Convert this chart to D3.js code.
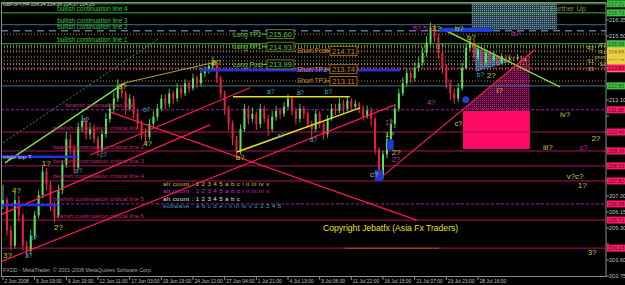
<!DOCTYPE html>
<html>
<head>
<meta charset="utf-8">
<script src="https://cdn.jsdelivr.net/npm/d3@7"></script>
<style>
  body { margin: 0; background: #000; }
  svg { display: block; font-family: "Liberation Sans", Arial, sans-serif; }
</style>
</head>
<body>
<div id="chart"></div>
<script>
// ---- price bars (GBPJPY H4), open = previous close
var firstOpen = 206.50;
var closes = [206.78,205.17,204.36,206.78,205.97,204.36,204.09,204.89,205.97,207.05,
  208.30,207.59,206.51,205.97,207.32,208.67,210.02,209.48,208.51,210.67,
  210.99,210.29,210.56,210.02,209.48,210.29,211.10,211.64,212.18,212.83,
  212.45,211.64,212.18,211.37,210.83,210.29,210.13,210.83,211.21,211.64,
  212.18,211.91,212.45,212.18,212.72,212.45,212.99,212.72,213.26,212.99,
  213.53,213.69,213.91,214.07,213.26,212.45,211.64,210.83,210.02,209.37,
  210.56,211.64,211.10,211.37,210.83,211.64,211.10,210.56,211.21,211.53,
  211.37,211.75,212.18,211.53,211.10,211.64,211.37,210.83,210.56,211.37,
  210.83,210.29,211.10,211.64,211.53,211.91,211.64,212.07,211.75,211.91,
  211.64,211.21,211.53,211.10,209.48,208.13,209.21,210.02,210.83,211.64,
  212.45,212.99,213.53,213.26,213.80,214.07,214.61,215.15,215.96,215.42,
  214.61,213.80,212.99,212.45,212.18,212.72,213.80,214.88,215.15,214.34,
  214.77,214.07,214.61,214.23,214.45,214.12,214.45,214.23,214.34,214.29,
  214.40,214.18,214.25];
var highs = [207.60,206.95,205.40,207.20,207.00,206.10,204.60,205.20,206.20,207.30,
  208.60,208.50,207.80,206.70,207.60,208.90,210.40,210.30,209.70,210.90,
  211.30,211.20,210.90,210.80,210.20,210.50,211.40,211.90,212.50,213.20,
  213.00,212.60,212.40,212.30,211.60,211.00,210.60,211.10,211.50,211.90,
  212.40,212.40,212.70,212.60,213.00,212.90,213.20,213.10,213.50,213.40,
  213.80,213.90,214.10,214.40,214.20,213.40,212.60,211.80,211.00,210.20,
  210.80,211.90,211.80,211.70,211.50,211.90,211.80,211.30,211.50,211.80,
  211.70,212.00,212.40,212.30,211.70,211.90,211.80,211.50,211.00,211.60,
  211.50,211.00,211.30,211.90,211.90,212.20,212.10,212.30,212.20,212.10,
  212.00,211.80,211.80,211.70,211.20,209.60,209.40,210.30,211.10,211.90,
  212.70,213.30,213.80,213.70,214.10,214.40,214.90,215.50,216.20,216.10,
  215.60,214.80,214.00,213.20,212.70,213.00,214.10,215.10,215.40,215.30,
  215.00,214.90,214.80,214.70,214.70,214.50,214.60,214.50,214.50,214.40,
  214.55,214.45,214.35];
var lows = [206.30,204.90,204.10,204.20,205.70,204.10,203.75,203.90,204.70,205.80,
  206.90,207.30,206.20,205.60,205.80,207.10,208.50,209.20,208.20,208.40,
  210.40,210.00,210.00,209.80,209.10,209.30,210.10,210.90,211.40,212.00,
  212.20,211.30,211.50,211.10,210.60,210.00,209.80,210.00,210.60,211.00,
  211.50,211.60,211.70,211.90,212.00,212.20,212.30,212.50,212.60,212.70,
  212.80,213.30,213.50,213.70,213.00,212.20,211.30,210.50,209.70,209.00,
  209.20,210.40,210.80,210.90,210.50,210.60,210.90,210.20,210.40,211.00,
  211.10,211.20,211.60,211.30,210.80,210.90,211.10,210.60,210.10,210.40,
  210.60,210.00,210.10,211.00,211.30,211.40,211.40,211.50,211.50,211.60,
  211.40,211.00,211.10,210.70,209.20,207.80,207.90,209.00,209.90,210.60,
  211.50,212.30,212.80,213.00,213.10,213.60,213.90,214.40,215.00,215.20,
  214.30,213.50,212.70,212.10,211.90,212.00,212.60,213.70,214.70,214.10,
  214.20,213.90,213.90,214.00,214.10,213.90,214.00,214.10,214.10,214.15,
  214.20,214.10,214.15];

// ---- axes
var timeLabels = ["2 Jun 2008","5 Jun 03:00","9 Jun 19:00","12 Jun 11:00","17 Jun 03:00","19 Jun 19:00",
  "24 Jun 12:00","27 Jun 04:00","1 Jul 21:00","4 Jul 13:00","9 Jul 06:00","11 Jul 22:00",
  "16 Jul 15:00","21 Jul 07:00","23 Jul 23:00","28 Jul 16:00"];
var barsPerLabel = 8;
var priceTicks = [216.35,215.50,214.65,213.80,212.95,212.10,211.25,210.40,209.55,208.70,
  207.85,207.00,206.15,205.30,204.45,203.60,202.75];

// ---- horizontal levels
var bullishLevels = [217.21, 216.73, 216.10, 215.78, 215.09];
var bullishNames = ["", "bullish continuation line 4", "bullish continuation line 3",
  "bullish continuation line 2", "bullish continuation line 1"];
var steelLevel = 212.85;
var shortLevel = 213.80;
var criticalLevels = [211.58, 210.40, 209.39, 208.60, 207.80, 206.58, 205.72, 204.23];
var criticalNames = ["bearish reversal bias line", "bearish continuation critical line 1",
  "bearish continuation critical line 2", "bearish continuation critical line 3",
  "bearish continuation critical line 4", "bearish continuation critical line 5",
  "bearish continuation critical line 6", ""];
var pivotNames = ["R3","R2","R1","pivot","S1","S2","S3"];
var pivotLevels = [215.00, 214.87, 214.66, 214.39, 214.18, 214.02, 213.76];
var tradeNames = ["Long TP2","Long TP1","Long Post","Short Post","Short TP1","Short TP2"];
var tradeLevels = [215.60, 214.93, 213.99, 214.71, 213.74, 213.11];

// ---- trend lines [bar1, price1, bar2, price2]
var greenLines = [[0.5,208.76,30.8,213.01]];
var limeLines = [[110.4,215.94,140.7,212.80]];
var oliveLines = [[30.8,213.01,54.0,214.13]];
var tealDotted = [[-0.8,209.71,39.6,215.40]];
var redLines = [[27.0,211.47,104.5,205.72],[-0.8,203.49,99.0,211.84],[-0.8,205.99,52.3,210.78],
  [22.0,209.18,62.4,212.75],[96.0,208.07,134.3,214.77]];
var yellowLines = [[59.1,209.34,90.2,211.68],[58.1,212.27,87.6,212.27]];
var blueLines = [[-0.8,209.08,18.9,209.08],[-0.8,206.52,13.9,206.52],[49.7,213.68,100.3,213.68]];

// ---- zones [bar1, price1, bar2, price2]
var furtherUpBox = [118.4,217.27,139.9,215.83];
var pinkBox = [116.2,211.52,133.1,209.50];
var blueBar = [110.4,215.94,123.7,215.72];
var blueMarks = [[93.9,208.38,96.0,207.80],[97.0,209.98,98.7,209.45]];
var magentaTri = [[116.2,211.58],[133.1,214.55],[133.1,211.52]];
var blueTri = [[119.2,214.93],[128.0,214.13],[119.4,213.60]];

// ---- wave labels [text, bar, price]
var yellowWaves = [["3?",0,203.86],["4?",2.3,207.32],["1?",9.8,208.76],["2?",12.9,205.35],
  ["3?",29.0,212.85],["4?",35.4,209.82],["5?",52.8,214.13],["a?",58.8,209.07],["c?",92.7,208.17],
  ["1?",96.5,210.30],["2?",98.2,209.34],["3?",108.3,215.94],["b?",114.1,215.94],["b?",117.2,215.46],
  ["2?",122.2,213.44],["i?",124.7,212.64],["iv?",140.7,211.36],["iii?",136.4,209.61],
  ["2?",148.7,210.09],["v?c?",142.4,208.06],["1?",145.2,207.59],["3?",147.7,204.02]];
var purpleWaves = [["5?",103.5,215.94],["5?",106.1,215.94],["1?",96.5,210.90],["2?",98.2,208.95],
  ["b?",128.5,215.67],["4?",107.1,211.99],["c?",145.7,209.61]];
var cyanWaves = [["5?",5.6,203.86],["b?",6.8,204.82],["a?",18.2,208.38],["a?",20.0,211.08],
  ["c?",24.5,209.18],["b?",35.4,211.58],["a?",66.7,212.53],["a?",74.2,212.48],["b?",81.3,212.53],
  ["a?",69.2,210.24],["a?",77.5,209.98],["1?",109.6,214.93],["b?",119.7,213.44]];
var whiteWaves = [["c?",114.1,210.88]];

var countLines = ["alt count : 1 2 3 4 5 a b c i ii iii iv v", "alt count : 1 2 3 4 5 a b c i ii iii iv v",
  "alt count : 1 2 3 4 5 a b c", "subwave : a b c d e i ii iii iv v 1 2 3 4 5"];

var width = 625, height = 285;
var plotRight = 606, plotBottom = 276, plotTop = 2;

var x = d3.scaleLinear().domain([0, 120]).range([3, 478]);
var y = d3.scaleLinear().domain([207, 212.10]).range([196, 100]);

var svg = d3.select("#chart").append("svg").attr("width", width).attr("height", height);
svg.append("rect").attr("width", width).attr("height", height).attr("fill", "#000");

var defs = svg.append("defs");
function dotPattern(id, bg, dot) {
  var p = defs.append("pattern").attr("id", id).attr("width", 2).attr("height", 2)
    .attr("patternUnits", "userSpaceOnUse");
  p.append("rect").attr("width", 2).attr("height", 2).attr("fill", bg);
  p.append("rect").attr("width", 1).attr("height", 1).attr("fill", dot);
}
dotPattern("dotSteel", "#28404f", "#7d9cb4");
dotPattern("dotMag", "#4a0634", "#c01878");
dotPattern("dotBlue", "#1c4e86", "#58a8e8");
defs.append("clipPath").attr("id", "plotClip").append("rect")
  .attr("x", 1).attr("y", plotTop).attr("width", plotRight - 1).attr("height", plotBottom - plotTop);

var plot = svg.append("g").attr("clip-path", "url(#plotClip)");

function hline(v, color, w, dash) {
  plot.append("line").attr("x1", 1).attr("x2", plotRight).attr("y1", y(v)).attr("y2", y(v))
    .attr("stroke", color).attr("stroke-width", w).attr("stroke-dasharray", dash || null);
}
function seg(s, color, w, dash) {
  plot.append("line").attr("x1", x(s[0])).attr("y1", y(s[1])).attr("x2", x(s[2])).attr("y2", y(s[3]))
    .attr("stroke", color).attr("stroke-width", w).attr("stroke-dasharray", dash || null);
}
function box(b, fill, stroke) {
  plot.append("rect").attr("x", x(b[0])).attr("y", y(b[1]))
    .attr("width", x(b[2]) - x(b[0])).attr("height", y(b[3]) - y(b[1]))
    .attr("fill", fill).attr("stroke", stroke || "none");
}
function poly(pts, fill) {
  plot.append("polygon").attr("points", pts.map(function(p) { return x(p[0]) + "," + y(p[1]); }).join(" "))
    .attr("fill", fill);
}
function txt(g, t, px, py, color, size, anchor) {
  return g.append("text").attr("x", px).attr("y", py).attr("fill", color)
    .attr("font-size", size).attr("text-anchor", anchor || "start").text(t);
}

// zones behind everything
box(furtherUpBox, "url(#dotSteel)");
box(pinkBox, "#ff0a64");
poly(magentaTri, "url(#dotMag)");
poly(blueTri, "url(#dotBlue)");

// horizontal levels
bullishLevels.forEach(function(v, i) {
  if (i == 2) hline(v, "#3c6e8c", 1);
  else if (i == 3) hline(v, "#5a7890", 1.5, "7,5");
  else hline(v, "#30b830", 1);
});
hline(steelLevel, "#3c7890", 1);
pivotLevels.forEach(function(v) { hline(v, "#a89a30", 1, "1,2"); });
tradeLevels.forEach(function(v, i) { hline(v, i < 3 ? "#9aa428" : "#c87a20", 1, "1,2"); });
hline(shortLevel, "#d0206a", 1, "4,2");
criticalLevels.forEach(function(v, i) {
  if (i == 0 || i == 5) hline(v, "#a020a0", 1, "3,2");
  else hline(v, "#b0105c", 1);
});
plot.append("line").attr("x1", x(86.5)).attr("x2", x(110)).attr("y1", y(204.23)).attr("y2", y(204.23))
  .attr("stroke", "#c8b820").attr("stroke-width", 1).attr("stroke-dasharray", "1,1");

// candles
var bars = closes.map(function(c, i) {
  return { i: i, o: i ? closes[i - 1] : firstOpen, h: highs[i], l: lows[i], c: c };
});
var cg = plot.append("g");
cg.selectAll("line.wick").data(bars).enter().append("line")
  .attr("x1", function(d) { return x(d.i); }).attr("x2", function(d) { return x(d.i); })
  .attr("y1", function(d) { return y(d.h); }).attr("y2", function(d) { return y(d.l); })
  .attr("stroke", function(d) { return d.c >= d.o ? "#3ccc3c" : "#ff2a50"; }).attr("stroke-width", 1);
cg.selectAll("rect.body").data(bars).enter().append("rect")
  .attr("x", function(d) { return x(d.i) - 1; })
  .attr("y", function(d) { return y(Math.max(d.o, d.c)); })
  .attr("width", 2)
  .attr("height", function(d) { return Math.max(1, Math.abs(y(d.o) - y(d.c))); })
  .attr("fill", function(d) { return d.c >= d.o ? "#5ee05e" : "#e8203c"; });

// trend lines
tealDotted.forEach(function(s) { seg(s, "#3a8a8a", 1, "2,2"); });
greenLines.forEach(function(s) { seg(s, "#7ce03c", 1.5); });
limeLines.forEach(function(s) { seg(s, "#8cd82c", 1.5); });
oliveLines.forEach(function(s) { seg(s, "#a8a838", 1); });
redLines.forEach(function(s) { seg(s, "#ff1a50", 1.2); });
yellowLines.forEach(function(s) { seg(s, "#e0e020", 1.5); });
blueLines.forEach(function(s) { seg(s, "#2030e8", 2.5); });
box(blueBar, "#1e3ee0");
blueMarks.forEach(function(b) { box(b, "#2038d0"); });
plot.append("circle").attr("cx", x(116.9)).attr("cy", y(212.11)).attr("r", 3.5).attr("fill", "#2040d0");

// level labels
var lab = svg.append("g");
bullishLevels.forEach(function(v, i) {
  if (bullishNames[i]) txt(lab, bullishNames[i], x(13.7), y(v) - 2, "#38c838", 6.3);
});
criticalLevels.forEach(function(v, i) {
  if (criticalNames[i]) txt(lab, criticalNames[i], x(i == 0 ? 15.7 : 12.6), y(v) - 2.5, "#c02a78", 6.2);
});
txt(lab, "triple top ?", x(0), y(209.08) + 2, "#c8d0f0", 6);
pivotNames.forEach(function(n, i) {
  var right = (i == 1 || i == 4 || i == 6) ? 594 : 606;
  txt(lab, n, right, y(pivotLevels[i]) + 1.8, "#c8b43c", 5.4, "end");
});
tradeNames.forEach(function(n, i) {
  var isLong = i < 3;
  var c = isLong ? "#5ac83c" : "#d08a28";
  var bx = isLong ? 267 : 330;
  var ly = y(tradeLevels[i]);
  txt(lab, n, isLong ? 233 : 297, ly + 2.5, c, 6.6);
  lab.append("line").attr("x1", bx - 5).attr("x2", bx).attr("y1", ly).attr("y2", ly).attr("stroke", c);
  lab.append("rect").attr("x", bx).attr("y", ly - 4.5).attr("width", 27).attr("height", 9)
    .attr("fill", "#000").attr("stroke", isLong ? "#6a7a28" : "#a06a18");
  txt(lab, tradeLevels[i].toFixed(2), bx + 13.5, ly + 3, c, 7.5, "middle");
});
txt(lab, "3? Further Up", x(135.6), y(216.95) + 2.5, "#8a8a5c", 7.5);

// wave count labels
function waves(list, color, size) {
  list.forEach(function(w) { txt(lab, w[0], x(w[1]), y(w[2]) + size / 2.6, color, size); });
}
waves(cyanWaves, "#3ca8d8", 6.5);
waves(purpleWaves, "#c030c0", 7.5);
waves(whiteWaves, "#d8d8d8", 7);
waves(yellowWaves, "#c8c828", 8);

var countColors = ["#c8c828", "#c828c8", "#e0e0e0", "#30a0d0"];
countLines.forEach(function(t, i) {
  txt(lab, t, 163, 186 + i * 7.3, countColors[i], 6.2).attr("letter-spacing", 0.35);
});
txt(lab, "Copyright Jebatfx (Asia Fx Traders)", 323, 230.5, "#e0e020", 8.6);
txt(lab, "FXDD - MetaTrader, \u00a9 2001-2008 MetaQuotes Software Corp.", 3, 272, "#a0a0a0", 5.4);
txt(lab, "GBPJPY,H4  214.24 214.35 214.17 214.25", 3, 6.3, "#c8c8c8", 4.9);

// frame and axes
var ax = svg.append("g");
ax.append("rect").attr("x", 1.5).attr("y", plotTop + 0.5).attr("width", plotRight - 1.5)
  .attr("height", plotBottom - plotTop).attr("fill", "none").attr("stroke", "#8c8c8c").attr("stroke-width", 1);

// coloured price tags on the right axis; pivots share one yellow strip
var greenTags = [bullishLevels[0], bullishLevels[1], bullishLevels[4], steelLevel];
var pinkTags = [shortLevel].concat(criticalLevels);
var pivotTagText = [2, 4];
var tagged = greenTags.concat(pinkTags, pivotLevels);

priceTicks.forEach(function(v) {
  ax.append("line").attr("x1", plotRight).attr("x2", plotRight + 3).attr("y1", y(v)).attr("y2", y(v)).attr("stroke", "#8c8c8c");
  var covered = tagged.some(function(t) { return Math.abs(y(t) - y(v)) < 6.5; });
  if (!covered) txt(ax, v.toFixed(2), plotRight + 3, Math.min(y(v) + 2, 284), "#c0c0c0", 5.6);
});
timeLabels.forEach(function(t, i) {
  var tx = x(i * barsPerLabel);
  ax.append("line").attr("x1", tx).attr("x2", tx).attr("y1", plotBottom).attr("y2", plotBottom + 4).attr("stroke", "#8c8c8c");
  txt(ax, t, tx + 1.5, 283, "#c0c0c0", 4.9);
});

function tag(v, fill, color, showText) {
  ax.append("rect").attr("x", plotRight + 1).attr("y", y(v) - 3.5).attr("width", 18).attr("height", 7).attr("fill", fill);
  if (showText) txt(ax, v.toFixed(2), plotRight + 2, y(v) + 2, color, 5.3);
}
pivotLevels.forEach(function(v, i) { tag(v, "#e8d040", "#6a5a10", pivotTagText.indexOf(i) >= 0); });
greenTags.forEach(function(v) { tag(v, "#40c040", "#1a501a", true); });
pinkTags.forEach(function(v) { tag(v, "#ff1a6a", "#600020", true); });
</script>
</body>
</html>
